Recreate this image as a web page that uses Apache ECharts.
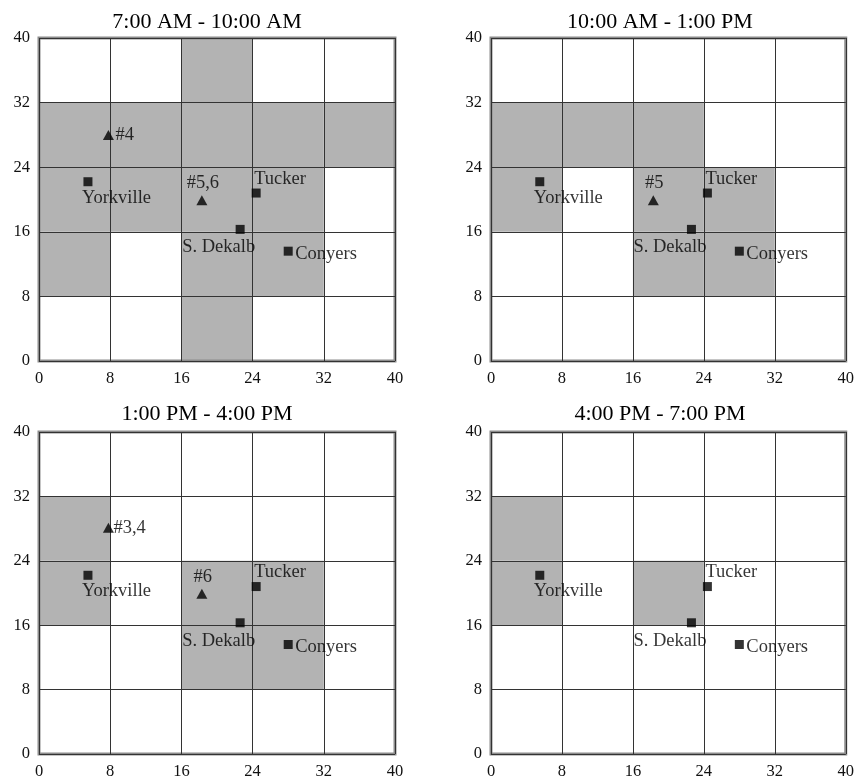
<!DOCTYPE html>
<html>
<head>
<meta charset="utf-8">
<script src="https://cdn.jsdelivr.net/npm/echarts@6/dist/echarts.min.js"></script>
<style>html,body{margin:0;padding:0;background:#fff}#c{width:857px;height:783px}</style>
</head>
<body>
<div id="c"></div>
<script>
// ---- data ----
const panelTitles = ['7:00 AM - 10:00 AM', '10:00 AM - 1:00 PM', '1:00 PM - 4:00 PM', '4:00 PM - 7:00 PM'];
const axisTicks = [0, 8, 16, 24, 32, 40];
const cellSize = 8;
const siteNames = ['Yorkville', 'Tucker', 'S. Dekalb', 'Conyers'];
const siteX = [5.5, 24.4, 22.6, 28.0];
const siteY = [22.2, 20.8, 16.3, 13.6];
// vehicle markers (triangles) per panel
const vehNames = [['#4', '#5,6'], ['#5'], ['#3,4', '#6'], []];
const vehX = [[7.8, 18.3], [18.3], [7.8, 18.3], []];
const vehY = [[28.0, 19.9], [19.9], [28.1, 19.9], []];
// shaded cells: lower-left corners per panel
const shaded1 = [[16,0],[16,8],[16,16],[16,24],[16,32],[0,24],[8,24],[24,24],[32,24],[0,16],[8,16],[24,16],[0,8],[24,8]];
const shaded2 = [[0,24],[8,24],[16,24],[0,16],[16,16],[24,16],[16,8],[24,8]];
const shaded3 = [[0,24],[0,16],[16,16],[24,16],[16,8],[24,8]];
const shaded4 = [[0,24],[0,16],[16,16]];
const shadedAll = [shaded1, shaded2, shaded3, shaded4];

// ---- layout / style ----
const grids = [
  {left: 39, top: 38, width: 356, height: 323},
  {left: 491, top: 38, width: 357, height: 323},
  {left: 39, top: 432, width: 356, height: 322},
  {left: 491, top: 432, width: 357, height: 322}
];
const titlePos = [{x: 202, y: 6}, {x: 655, y: 6}, {x: 202, y: 398}, {x: 655, y: 398}];
const font = '"Liberation Serif", "Times New Roman", serif';
const labelStyle = {
  'Yorkville': {align: 'left', offset: [-6, 16]},
  'Tucker': {align: 'left', offset: [-2, -14]},
  'S. Dekalb': {align: 'right', offset: [15, 18]},
  'Conyers': {align: 'left', offset: [7, 3]},
  '#4': {align: 'left', offset: [7, 0]},
  '#3,4': {align: 'left', offset: [5, 0]},
  '#5,6': {align: 'center', offset: [1, -17]},
  '#5': {align: 'center', offset: [1, -17]},
  '#6': {align: 'center', offset: [1, -17]}
};
function lbl(name) {
  const s = labelStyle[name];
  return {show: true, position: 'inside', formatter: name, align: s.align, verticalAlign: 'middle',
    offset: s.offset, fontFamily: font, fontSize: 18.5, color: '#000'};
}

const option = {
  backgroundColor: '#fff',
  animation: false,
  title: panelTitles.map((t, i) => ({
    text: t, left: titlePos[i].x, top: titlePos[i].y, textAlign: 'center',
    textStyle: {fontFamily: font, fontSize: 22, fontWeight: 'normal', color: '#000'}
  })),
  grid: grids.map(g => Object.assign({show: true, borderColor: '#8c8c8c', borderWidth: 3, backgroundColor: 'transparent', z: 5}, g)),
  xAxis: grids.map((g, i) => ({
    type: 'value', gridIndex: i, min: axisTicks[0], max: axisTicks[axisTicks.length - 1], interval: 8, z: 5,
    axisLine: {show: false}, axisTick: {show: false},
    splitLine: {show: true, lineStyle: {color: '#333', width: 1}},
    axisLabel: {fontFamily: font, fontSize: 16.5, color: '#111', margin: 9}
  })),
  yAxis: grids.map((g, i) => ({
    type: 'value', gridIndex: i, min: axisTicks[0], max: axisTicks[axisTicks.length - 1], interval: 8, z: 5,
    axisLine: {show: false}, axisTick: {show: false},
    splitLine: {show: true, lineStyle: {color: '#333', width: 1}},
    axisLabel: {fontFamily: font, fontSize: 16.5, color: '#111', margin: 9}
  })),
  series: []
};

shadedAll.forEach((cells, i) => {
  option.series.push({
    type: 'custom', xAxisIndex: i, yAxisIndex: i, z: 1, silent: true,
    data: cells,
    renderItem: function (params, api) {
      const x0 = api.value(0), y0 = api.value(1);
      const p0 = api.coord([x0, y0 + cellSize]);
      const p1 = api.coord([x0 + cellSize, y0]);
      return {type: 'rect', shape: {x: p0[0], y: p0[1], width: p1[0] - p0[0], height: p1[1] - p0[1]},
        style: {fill: '#b3b3b3'}};
    }
  });
  option.series.push({
    type: 'scatter', xAxisIndex: i, yAxisIndex: i, z: 10, symbol: 'rect', symbolSize: 9,
    itemStyle: {color: '#000'},
    data: siteNames.map((n, k) => ({name: n, value: [siteX[k], siteY[k]], label: lbl(n)}))
  });
  option.series.push({
    type: 'scatter', xAxisIndex: i, yAxisIndex: i, z: 10, symbol: 'triangle', symbolSize: [11, 10],
    itemStyle: {color: '#000'},
    data: vehNames[i].map((n, k) => ({name: n, value: [vehX[i][k], vehY[i][k]], label: lbl(n)}))
  });
});

const chart = echarts.init(document.getElementById('c'), null, {renderer: 'canvas'});
chart.setOption(option);
</script>
</body>
</html>
